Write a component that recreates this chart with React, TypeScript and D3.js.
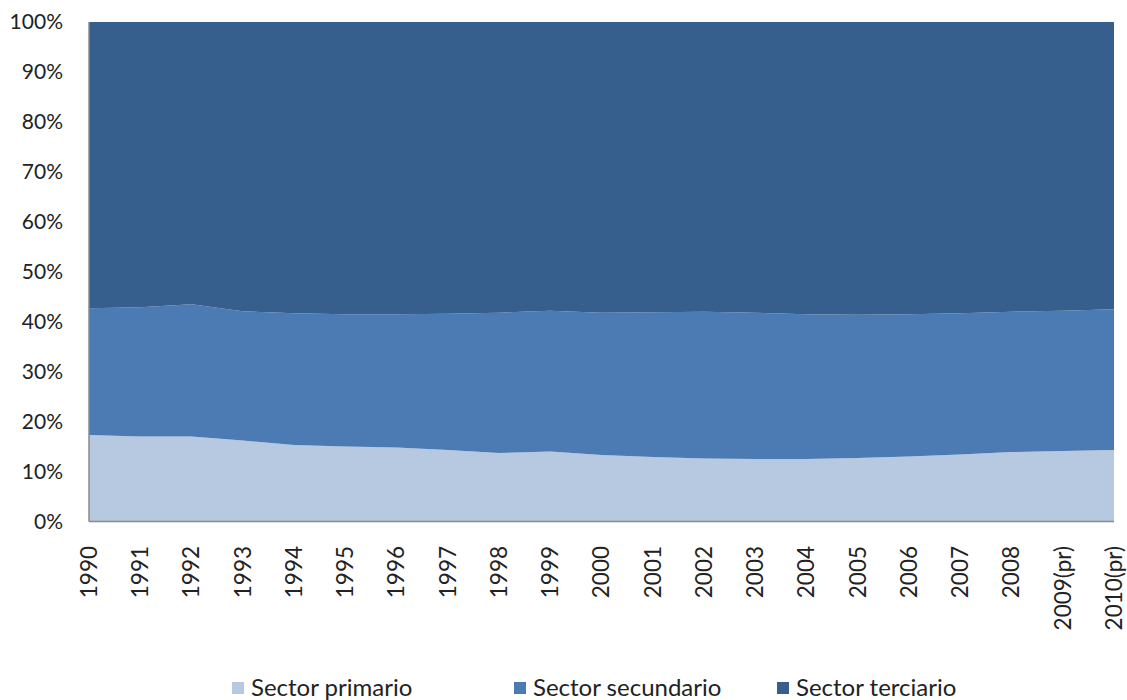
import React from "react";
import * as d3 from "d3";

const years = ["1990","1991","1992","1993","1994","1995","1996","1997","1998","1999","2000","2001","2002","2003","2004","2005","2006","2007","2008","2009(pr)","2010(pr)"];
const primario = [17.3,17.0,17.0,16.2,15.3,15.0,14.8,14.3,13.7,14.0,13.3,12.9,12.6,12.5,12.5,12.7,13.0,13.4,13.9,14.1,14.3];
const secundario = [25.4,25.9,26.5,25.9,26.4,26.5,26.7,27.3,28.1,28.2,28.5,29.0,29.4,29.3,29.0,28.7,28.5,28.3,28.1,28.1,28.2];
const terciario = [57.3,57.1,56.5,57.9,58.3,58.5,58.5,58.4,58.2,57.8,58.2,58.1,58.0,58.2,58.5,58.6,58.5,58.3,58.0,57.8,57.5];
const seriesNames = ["Sector primario","Sector secundario","Sector terciario"];
const colors = ["#b7c9e1","#4c7bb4","#365f8d"];
const yTicks = [0,10,20,30,40,50,60,70,80,90,100];

const W = 1127, H = 700;
const M = { left: 89, right: 1114, top: 22, bottom: 521.5 };
const FONT = "Lato, 'Open Sans', sans-serif";

export default function App() {
  const x = d3.scalePoint<string>().domain(years).range([M.left, M.right]);
  const y = d3.scaleLinear().domain([0, 100]).range([M.bottom, M.top]);
  const rows = years.map((yr, i) => ({ year: yr, p: primario[i], s: secundario[i], t: terciario[i] }));
  const stack = d3.stack<any>().keys(["p", "s", "t"]).offset(d3.stackOffsetExpand);
  const layers = stack(rows);
  const area = d3.area<any>()
    .x((d: any) => x(d.data.year) as number)
    .y0((d: any) => y(d[0] * 100))
    .y1((d: any) => y(d[1] * 100));

  const legendX = [232, 514, 777];

  return (
    <svg width={W} height={H} style={{ position: "absolute", left: 0, top: 0, background: "#fff" }} fontFamily={FONT}>
      {layers.map((layer, i) => (
        <path key={i} d={area(layer as any) || ""} fill={colors[i]} />
      ))}
      <line x1={M.left} x2={M.left} y1={M.top} y2={M.bottom} stroke="#8a8a8a" strokeWidth={1.5} />
      <line x1={M.left} x2={M.right} y1={M.bottom} y2={M.bottom} stroke="#8a8a8a" strokeWidth={1.5} />
      {yTicks.map((t) => (
        <text key={t} x={63} y={y(t)} dy="0.35em" textAnchor="end" fontSize={21} fill="#222">
          {t}%
        </text>
      ))}
      {years.map((yr) => (
        <text
          key={yr}
          transform={`translate(${x(yr)},${546}) rotate(-90)`}
          dy="0.35em"
          textAnchor="end"
          fontSize={22.5}
          fill="#222"
        >
          {yr}
        </text>
      ))}
      {seriesNames.map((n, i) => (
        <g key={n}>
          <rect x={legendX[i]} y={682} width={12} height={12} fill={colors[i]} />
          <text x={legendX[i] + 19} y={688} dy="0.35em" fontSize={24} fill="#222">
            {n}
          </text>
        </g>
      ))}
    </svg>
  );
}
